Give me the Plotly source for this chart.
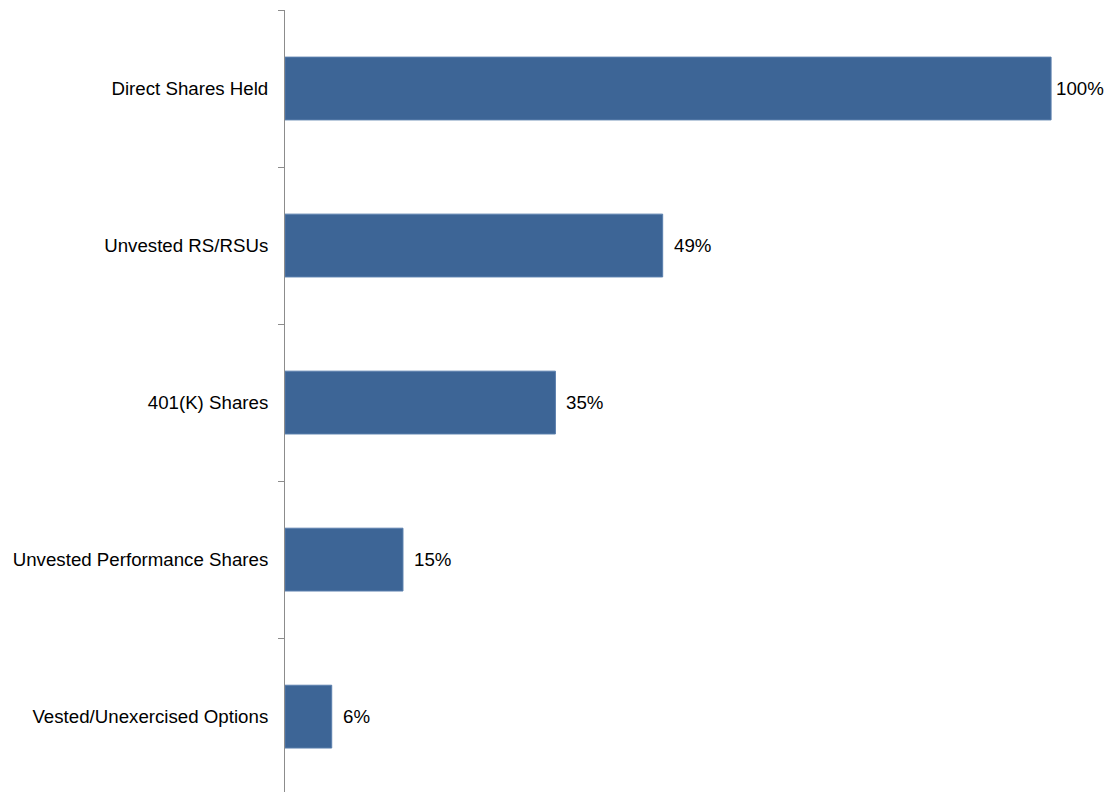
import plotly.graph_objects as go

categories = ["Direct Shares Held", "Unvested RS/RSUs", "401(K) Shares",
              "Unvested Performance Shares", "Vested/Unexercised Options"]
values = [100, 49.3, 35.3, 15.4, 6.1]
labels = ["100%", "49%", "35%", "15%", "6%"]

pos = list(range(len(categories)))
FONT = "Liberation Sans, Arial"

fig = go.Figure(go.Bar(
    x=values, y=pos, orientation="h", width=0.4,
    marker=dict(color="#3D6596", line=dict(color="#5A7FAD", width=1)),
    hoverinfo="skip",
))

# value labels beside each bar end
for i, (v, lab) in enumerate(zip(values, labels)):
    fig.add_annotation(
        x=v, y=pos[i], text=lab, showarrow=False, xanchor="left",
        xshift=3 if i == 0 else 9,
        font=dict(family=FONT, size=18.7, color="#000000"),
    )

fig.update_layout(
    width=1107, height=792,
    margin=dict(l=285, r=0, t=10, b=0),
    plot_bgcolor="white", paper_bgcolor="white",
    showlegend=False,
    font=dict(family=FONT, size=18.7, color="#000000"),
    xaxis=dict(range=[0, 107.3], visible=False, showgrid=False, zeroline=False),
    yaxis=dict(
        range=[4.48, -0.5], tickvals=pos, ticktext=categories, ticks="",
        showline=True, linecolor="#8C8C8C", linewidth=1, showgrid=False,
        zeroline=False, ticklabelstandoff=12,
        minor=dict(tickvals=[-0.5, 0.5, 1.5, 2.5, 3.5], ticks="outside",
                   ticklen=6, tickcolor="#8C8C8C", tickwidth=1, showgrid=False),
    ),
)

fig.write_html("out.html")
